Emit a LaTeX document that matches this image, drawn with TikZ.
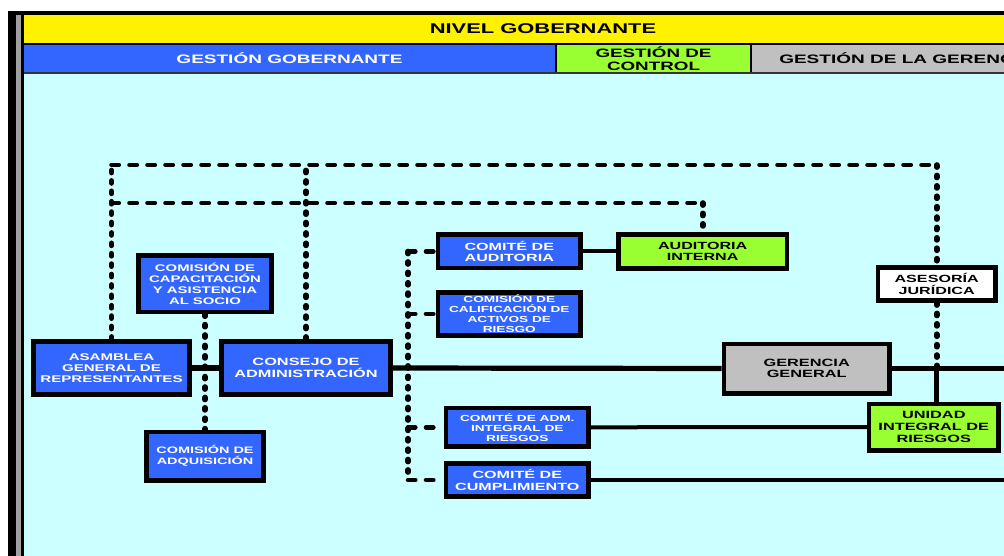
\documentclass[tikz,border=0pt]{standalone}
\usepackage{fontspec}
\setmainfont{Liberation Sans}[FakeStretch=1.55]
\definecolor{cblue}{HTML}{3366FF}
\definecolor{cgreen}{HTML}{99FF33}
\definecolor{cgray}{HTML}{C0C0C0}
\definecolor{ccyan}{HTML}{CCFFFF}
\definecolor{cframe}{HTML}{A0A0A0}
\pgfdeclarelayer{back}
\pgfdeclarelayer{lines}
\pgfsetlayers{back,lines,main}
\newcommand\myfs[2]{\bfseries\fontsize{#1}{#2}\selectfont}
\begin{document}
\begin{tikzpicture}[x=0.75pt,y=-0.75pt,
  box/.style={draw=black, line width=3.4pt, align=center, inner sep=0pt},
  bl/.style={box, fill=cblue, text=white},
  gr/.style={box, fill=cgreen, text=black},
  gy/.style={box, fill=cgray, text=black},
  wh/.style={box, fill=white, text=black},
  sz/.style 2 args={minimum width={(#1*0.75-3.4)*1pt}, minimum height={(#2*0.75-3.4)*1pt}},
  hd/.style={inner sep=0pt, align=center},
  solidln/.style={line width=3.9pt},
  thinln/.style={line width=3pt},
  dots/.style={line width=4.2pt, line cap=round, dash pattern=on 1.6pt off 6.2pt},
  dsh/.style={line width=3.4pt, line cap=round, dash pattern=on 5.5pt off 8pt}]
\useasboundingbox (0,0) rectangle (1004,556);
\clip (0,0) rectangle (1004,556);
\begin{pgfonlayer}{back}
\fill[white] (0,0) rectangle (1004,556);
\fill[ccyan] (24,74) rectangle (1004,556);
\fill[black] (8,11) rectangle (1004,15);
\fill[black] (8,11) rectangle (16,556);
\fill[cframe] (16,15) rectangle (21,556);
\fill[black] (21,15) rectangle (24,556);
\fill[yellow] (24,15) rectangle (1004,43);
\fill[black] (24,43) rectangle (1004,45);
\fill[cblue] (24,45) rectangle (555,72);
\fill[black] (555,45) rectangle (557,72);
\fill[cgreen] (557,45) rectangle (750,72);
\fill[black] (750,45) rectangle (752,72);
\fill[cgray] (752,45) rectangle (1004,72);
\fill[black!80] (24,72) rectangle (1004,74);
\end{pgfonlayer}
% header texts
\node[hd, font=\myfs{10.6}{12}] (nivel) at (543,29) {NIVEL GOBERNANTE};
\node[hd, text=white, font=\myfs{9.2}{10}] (gg) at (289.5,58.5) {GESTIÓN GOBERNANTE};
\node[hd, font=\myfs{9.1}{9.5}] (gc) at (653.5,58.5) {GESTIÓN DE\\CONTROL};
\node[hd, anchor=west, font=\myfs{9.2}{10}] (gl) at (779,58.5) {GESTIÓN DE LA GERENCIA};
% boxes
\node[bl, sz={161}{58}, font=\myfs{7.3}{8}] (asam) at (111.5,368) {ASAMBLEA\\GENERAL DE\\REPRESENTANTES};
\node[bl, sz={174}{58}, font=\myfs{7.9}{8.8}] (consejo) at (306,368) {CONSEJO DE\\ADMINISTRACIÓN};
\node[bl, sz={138}{61}, font=\myfs{7.2}{8.2}] (capac) at (205,283.7) {COMISIÓN DE\\CAPACITACIÓN\\Y ASISTENCIA\\AL SOCIO};
\node[bl, sz={122}{53}, font=\myfs{7.0}{8.2}] (adquis) at (205,456) {COMISIÓN DE\\ADQUISICIÓN};
\node[bl, sz={147}{38}, font=\myfs{7.8}{8.8}] (comaud) at (509.3,251.5) {COMITÉ DE\\AUDITORIA};
\node[gr, sz={173}{39}, font=\myfs{7.8}{8.8}] (audint) at (702.7,251.5) {AUDITORIA\\INTERNA};
\node[bl, sz={147}{48}, font=\myfs{6.6}{7.5}] (calif) at (509.3,314) {COMISIÓN DE\\CALIFICACIÓN DE\\ACTIVOS DE\\RIESGO};
\node[bl, sz={147}{43}, font=\myfs{6.6}{7.5}] (comadm) at (517.3,427.3) {COMITÉ DE ADM.\\INTEGRAL DE\\RIESGOS};
\node[bl, sz={147}{38}, font=\myfs{7.8}{9.2}] (cumpl) at (517.3,480) {COMITÉ DE\\CUMPLIMIENTO};
\node[gy, sz={170}{54}, font=\myfs{7.9}{8.8}] (gerencia) at (806.7,368.5) {GERENCIA\\GENERAL};
\node[wh, sz={122}{38}, font=\myfs{7.8}{8.8}] (asesoria) at (936.7,284) {ASESORÍA\\JURÍDICA};
\node[gr, sz={134}{51}, font=\myfs{7.9}{8.8}] (unidad) at (933.8,427) {UNIDAD\\INTEGRAL DE\\RIESGOS};
% junction coordinates
\coordinate (top1) at (0,165);
\coordinate (top2) at (0,203);
\coordinate (vx) at (408,0);
\coordinate (mainend) at (1010,368.5);
\coordinate (cumend) at (1010,480);
\begin{pgfonlayer}{lines}
% solid lines
\draw[solidln] (asam.east) -- (consejo.west);
\draw[solidln] (consejo.east) -- (gerencia.west);
\draw[solidln] (gerencia.east) -- (mainend);
\draw[solidln] (asesoria.south |- gerencia.east) -- (asesoria.south |- unidad.north);
\draw[thinln] (comaud.east) -- (audint.west);
\draw[thinln] (comadm.east) -- (unidad.west);
\draw[thinln] (cumpl.east) -- (cumend);
% upper dotted / dashed network
\draw[dots] (asam.north) -- (asam.north |- top1);
\draw[dsh] (asam.north |- top1) -- (asesoria.north |- top1);
\draw[dots] (asesoria.north |- top1) -- (asesoria.north);
\draw[dots] (consejo.north) -- (consejo.north |- top1);
\draw[dsh] (asam.north |- top2) -- (audint.north |- top2);
\draw[dots] (audint.north |- top2) -- (audint.north);
\draw[dots] (asesoria.south) -- (asesoria.south |- gerencia.east);
\draw[dots] (capac.south) -- (adquis.north);
% committees bus
\draw[dots] (vx |- comaud.west) -- (vx |- cumpl.west);
\draw[dsh] (vx |- comaud.west) -- (comaud.west);
\draw[dsh] (vx |- calif.west) -- (calif.west);
\draw[dsh] (vx |- comadm.west) -- (comadm.west);
\draw[dsh] (vx |- cumpl.west) -- (cumpl.west);
\end{pgfonlayer}
\end{tikzpicture}
\end{document}
